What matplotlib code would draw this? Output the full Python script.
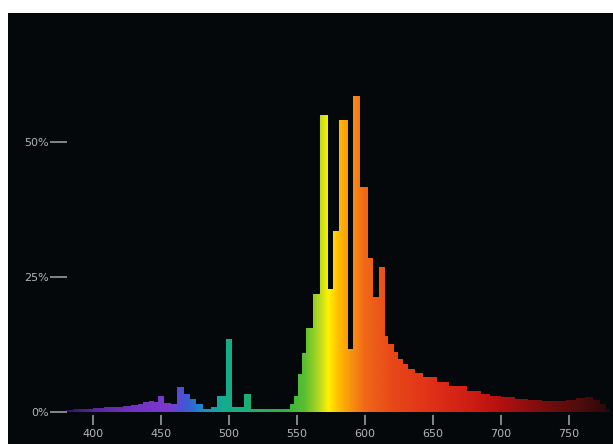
import numpy as np
import matplotlib
matplotlib.use('Agg')
import matplotlib.pyplot as plt
from matplotlib.colors import LinearSegmentedColormap

# spectrum: bin left edges (nm) and relative level (%)
nm_edges = [380, 385, 392, 400, 408, 415, 422, 428, 433, 437, 441, 445, 448, 452,
            457, 462, 467, 471, 476, 481, 487, 491, 498, 502, 511, 516, 545, 548,
            551, 554, 557, 562, 567, 573, 576.5, 581, 587.5, 591, 596, 602, 606,
            610, 615, 617, 621, 624, 628, 632, 637, 643, 653, 662, 675, 685, 692,
            700, 710, 720, 730, 740, 748, 755, 762, 768, 773, 777, 780]
percent = [0.3, 0.5, 0.6, 0.8, 0.9, 1.0, 1.1, 1.3, 1.5, 1.8, 2.1, 1.8, 3.0, 1.6,
           1.5, 4.6, 3.3, 2.4, 1.5, 0.6, 1.0, 3.0, 13.5, 1.0, 3.3, 0.6, 1.5, 3.0,
           7.0, 11.0, 15.5, 21.8, 55.0, 22.8, 33.5, 54.0, 11.7, 58.6, 41.7, 28.5, 21.3,
           26.9, 14.0, 12.6, 11.1, 9.8, 8.9, 8.0, 7.2, 6.5, 5.6, 4.8, 3.9, 3.3, 3.0,
           2.7, 2.4, 2.2, 2.0, 2.0, 2.2, 2.5, 2.7, 2.3, 1.5, 0.6]

x_ticks = [400, 450, 500, 550, 600, 650, 700, 750]
y_ticks = [0, 25, 50]
y_labels = ['0%', '25%', '50%']

# rough wavelength -> colour stops
stops = [(380, '#2e1560'), (400, '#5a28a0'), (430, '#7232c2'), (455, '#7a3ad0'),
         (468, '#3c5ad4'), (482, '#1890c8'), (495, '#14ac8c'), (510, '#18b07c'),
         (540, '#2eb044'), (556, '#5cc030'), (566, '#b8d820'), (573, '#fff000'),
         (580, '#ffc000'), (590, '#f89010'), (600, '#f06818'), (620, '#e84818'),
         (650, '#e03018'), (680, '#cc1c14'), (700, '#b41010'), (730, '#7c0e0e'),
         (760, '#4c0c0c'), (780, '#2a0808')]
lo, hi = stops[0][0], stops[-1][0]
cmap = LinearSegmentedColormap.from_list(
    'spec', [((w - lo) / (hi - lo), c) for w, c in stops])

fig = plt.figure(figsize=(6.13, 4.44), dpi=100)
fig.patch.set_facecolor('white')
ax = fig.add_axes([8 / 613, 0, 605 / 613, 431 / 444])
ax.set_facecolor('#05080b')

poly = ax.fill_between(nm_edges, percent + [percent[-1]], step='post',
                       color='none', lw=0)
grad = np.linspace(lo, hi, 800).reshape(1, -1)
img = ax.imshow(grad, extent=[lo, hi, 0, 75], aspect='auto', cmap=cmap,
                origin='lower', interpolation='bilinear', vmin=lo, vmax=hi)
img.set_clip_path(poly.get_paths()[0], transform=ax.transData)

ax.set_xlim(337.5, 782.4)
ax.set_ylim(-5.93, 73.9)

for s in ax.spines.values():
    s.set_visible(False)
ax.spines['left'].set_position(('data', 381))
ax.spines['bottom'].set_position(('data', -0.6))

ax.set_xticks(x_ticks)
ax.set_yticks(y_ticks, y_labels)
ax.tick_params(axis='y', direction='out', length=12, width=1.3, color='#909090',
               labelcolor='#b4b4b4', labelsize=8, pad=1)
ax.tick_params(axis='x', direction='out', length=7, width=1.3, color='#909090',
               labelcolor='#b4b4b4', labelsize=8, pad=3)

fig.savefig('out.png', dpi=100, facecolor=fig.get_facecolor())
